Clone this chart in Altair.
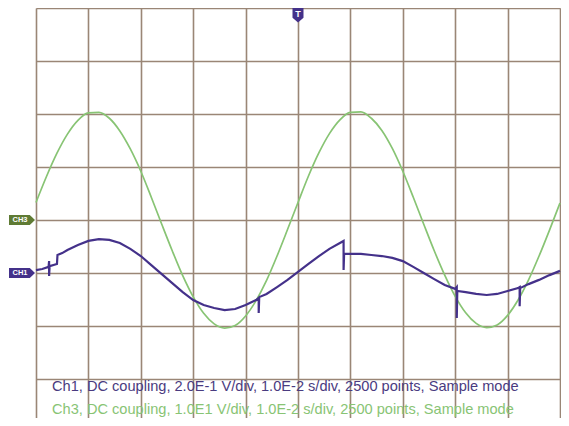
import altair as alt
import pandas as pd

# ---------------- data ----------------
# Ch3 (green): time in ms, voltage in V (10 V/div, reference at 0 div)
CH3_T = [0, 2, 4, 6, 8, 10, 12, 14, 16, 18, 20, 22, 24, 26, 28, 30, 32, 34, 36, 38,
         40, 42, 44, 46, 48, 50, 52, 54, 56, 58, 60, 62, 64, 66, 68, 70, 72, 74, 76, 78,
         80, 82, 84, 86, 88, 90, 92, 94, 96, 98, 100]
CH3_V = [3.3, 8.2, 12.6, 16.2, 18.8, 20.2, 20.3, 19.2, 16.8, 13.4, 9.2, 4.3, -0.8, -5.8,
         -10.5, -14.5, -17.6, -19.6, -20.4, -19.9, -18.1, -15.2, -11.4, -6.8, -1.8,
         3.3, 8.3, 12.7, 16.3, 18.9, 20.3, 20.4, 19.2, 16.9, 13.5, 9.2, 4.3, -0.8, -5.8,
         -10.4, -14.4, -17.5, -19.5, -20.3, -19.8, -18.0, -15.1, -11.3, -6.8, -1.9, 3.2]

# Ch1 (purple): time in ms, voltage in V (0.2 V/div, reference at -1 div)
CH1_T = [0, 1.2, 2.4, 2.5, 2.5, 2.6, 4.0, 4.1, 5, 6, 8, 10, 12, 14, 16, 18, 20, 22, 24,
         26, 28, 30, 32, 34, 36, 38, 40, 42, 42.5, 42.5, 42.6, 44, 46, 48, 50, 52, 54,
         56, 58, 58.7, 58.7, 58.8, 60, 62, 64, 66, 68, 70, 72, 74, 76, 78, 80, 80.3,
         80.3, 80.4, 82, 84, 86, 88, 90, 92, 92.3, 92.3, 92.4, 94, 96, 98, 100]
CH1_V = [0.011, 0.015, 0.023, 0.045, -0.011, 0.026, 0.034, 0.068, 0.075, 0.087, 0.106,
         0.121, 0.128, 0.125, 0.113, 0.091, 0.064, 0.030, -0.004, -0.038, -0.072, -0.102,
         -0.121, -0.132, -0.140, -0.136, -0.121, -0.102, -0.094, -0.151, -0.091, -0.079,
         -0.053, -0.026, 0.004, 0.034, 0.064, 0.091, 0.113, 0.121, 0.011, 0.072, 0.072,
         0.072, 0.068, 0.064, 0.057, 0.045, 0.023, 0.000, -0.023, -0.045, -0.060, -0.053,
         -0.170, -0.068, -0.072, -0.079, -0.083, -0.079, -0.068, -0.057, -0.053, -0.125,
         -0.057, -0.042, -0.026, -0.008, 0.008]

CH_SCALE = [0.2, 10.0]          # V/div for Ch1, Ch3
CH_OFFSET = [-1.0, 0.0]         # reference level in divisions for Ch1, Ch3
TAG_LABELS = ["CH1", "CH3"]
TRIGGER_T = [50]
TRIGGER_LABEL = ["T"]

X_GRID = [0, 10, 20, 30, 40, 50, 60, 70, 80, 90, 100]
Y_GRID = [-4, -3, -2, -1, 0, 1, 2, 3, 4]

FOOTER_CH1 = ["Ch1, DC coupling, 2.0E-1 V/div, 1.0E-2 s/div, 2500 points, Sample mode"]
FOOTER_CH3 = ["Ch3, DC coupling, 1.0E1 V/div, 1.0E-2 s/div, 2500 points, Sample mode"]

PURPLE = "#44318a"
TEXT_PURPLE = "#4a3b80"
GREEN = "#88c474"
TAG_GREEN = "#5f7b34"
GRID = "#9a8676"
BORDER = "#7d6252"

# ---------------- tables ----------------
ch1 = pd.DataFrame({
    "t": CH1_T,
    "div": [v / CH_SCALE[0] + CH_OFFSET[0] for v in CH1_V],
    "i": list(range(len(CH1_T))),
})
ch3 = pd.DataFrame({
    "t": CH3_T,
    "div": [v / CH_SCALE[1] + CH_OFFSET[1] for v in CH3_V],
    "i": list(range(len(CH3_T))),
})
tags = pd.DataFrame({"label": TAG_LABELS, "div": CH_OFFSET,
                     "color": [PURPLE, TAG_GREEN]})
trig = pd.DataFrame({"t": TRIGGER_T, "label": TRIGGER_LABEL})
foot1 = pd.DataFrame({"text": FOOTER_CH1})
foot3 = pd.DataFrame({"text": FOOTER_CH3})

W, H = 524, 410
PX_PER_DIV_Y = 53
xs = alt.Scale(domain=[0, 100], nice=False, zero=False)
ys = alt.Scale(domain=[4 - H / PX_PER_DIV_Y, 4], nice=False, zero=False)

ax_x = alt.Axis(values=X_GRID, grid=True, labels=False, ticks=False,
                domain=False, title=None, gridColor=GRID, gridWidth=1.6,
                gridOpacity=1)
ax_y = alt.Axis(values=Y_GRID, grid=True, labels=False, ticks=False,
                domain=False, title=None, gridColor=GRID, gridWidth=1.6,
                gridOpacity=1)
X_T = alt.X("t:Q", scale=xs, axis=ax_x)
Y_DIV = alt.Y("div:Q", scale=ys, axis=ax_y)

green = alt.Chart(ch3).mark_line(color=GREEN, strokeWidth=1.7,
                                 interpolate="monotone").encode(
    x=X_T, y=Y_DIV, order="i:Q")

purple = alt.Chart(ch1).mark_line(color=PURPLE, strokeWidth=2.2).encode(
    x=X_T, y=Y_DIV, order="i:Q")

tag_path = "M -1 -0.385 L 0.6 -0.385 L 1 0 L 0.6 0.385 L -1 0.385 Z"
tag_shapes = alt.Chart(tags).mark_point(shape=tag_path, filled=True, size=676,
                                        opacity=1, strokeWidth=0).encode(
    x=alt.value(-14), y=Y_DIV,
    color=alt.Color("color:N", scale=None),
)
tag_text = alt.Chart(tags).mark_text(color="white", fontSize=7.5, fontWeight="bold",
                                     font="Liberation Sans", align="center",
                                     baseline="middle").encode(
    x=alt.value(-16), y=Y_DIV, text="label:N")

trig_path = "M -0.733 -1 L 0.733 -1 L 0.733 0.35 L 0 1 L -0.733 0.35 Z"
trig_shape = alt.Chart(trig).mark_point(shape=trig_path, filled=True, size=225,
                                        opacity=1, color=PURPLE,
                                        strokeWidth=0).encode(
    x=X_T, y=alt.value(7))
trig_text = alt.Chart(trig).mark_text(color="white", fontSize=9, fontWeight="bold",
                                      font="Liberation Sans",
                                      baseline="middle").encode(
    x=X_T, y=alt.value(6), text="label:N")

foot_kw = dict(fontSize=14.6, font="Liberation Sans", align="left", baseline="middle")
footer1 = alt.Chart(foot1).mark_text(color=TEXT_PURPLE, **foot_kw).encode(
    x=alt.value(16), y=alt.value(379), text="text:N")
footer3 = alt.Chart(foot3).mark_text(color=GREEN, **foot_kw).encode(
    x=alt.value(16), y=alt.value(402), text="text:N")

chart = alt.layer(
    green, purple, tag_shapes, tag_text, trig_shape, trig_text, footer1, footer3
).properties(
    width=W,
    height=H,
    autosize=alt.AutoSizeParams(type="none"),
    padding={"left": 28, "top": 0, "right": 1, "bottom": 0},
).configure_view(
    stroke=BORDER, strokeWidth=2, fill="white"
).configure(background="white")

chart.save("out.html", embed_options={"renderer": "svg", "actions": False})
